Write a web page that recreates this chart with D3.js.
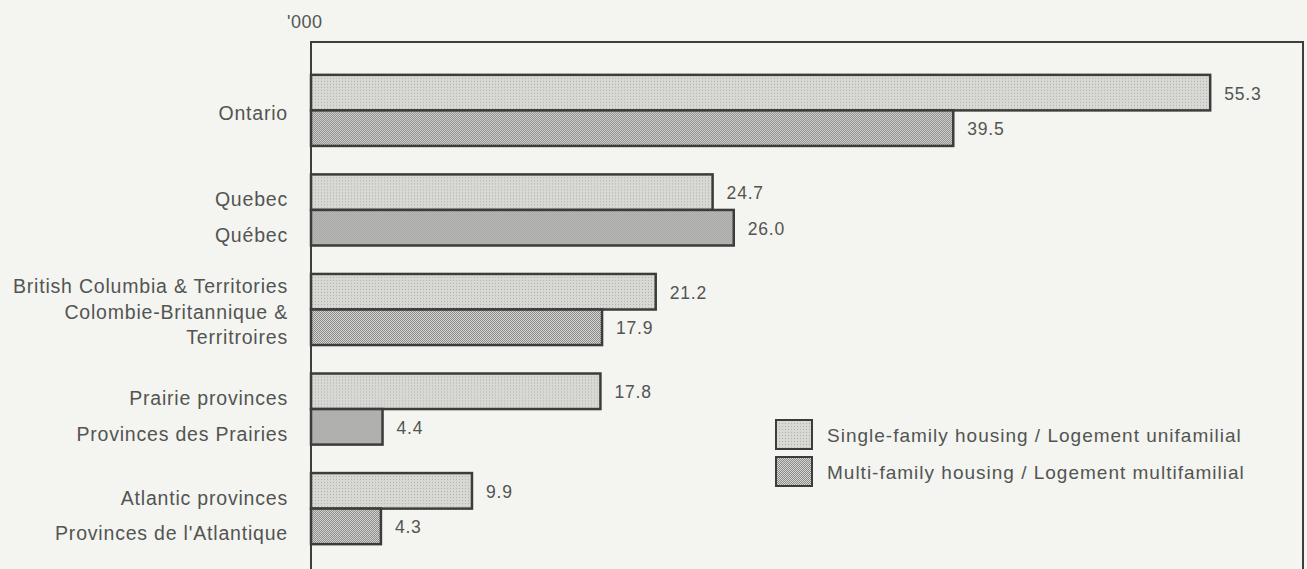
<!DOCTYPE html>
<html>
<head>
<meta charset="utf-8">
<script src="https://cdn.jsdelivr.net/npm/d3@7"></script>
<style>
  html, body { margin: 0; padding: 0; background: #f4f4f1; }
  svg { display: block; }
  text { font-family: "Liberation Sans", Arial, sans-serif; fill: #525552; }
</style>
</head>
<body>
<div id="chart"></div>
<script>
// regions, top to bottom; each label is split into its printed lines
const regions = ["Ontario", "Quebec", "BC", "Prairies", "Atlantic"];
const regionLabels = [
    ["Ontario"],
    ["Quebec", "Québec"],
    ["British Columbia & Territories", "Colombie-Britannique &", "Territroires"],
    ["Prairie provinces", "Provinces des Prairies"],
    ["Atlantic provinces", "Provinces de l'Atlantique"]
];
const series = ["single", "multi"];
const seriesNames = [
    "Single-family housing / Logement unifamilial",
    "Multi-family housing / Logement multifamilial"
];
const singleFamily = [55.3, 24.7, 21.2, 17.8, 9.9];
const multiFamily = [39.5, 26.0, 17.9, 4.4, 4.3];
const unitLabel = "'000";

(function() {
    const width = 1307;
    const height = 569;
    const left = 311;
    const top = 42;

    const svg = d3.select("#chart").append("svg")
        .attr("width", width)
        .attr("height", height);

    // halftone-ish fills, like the printed screens
    const defs = svg.append("defs");
    const p1 = defs.append("pattern").attr("id", "pat-single")
        .attr("width", 3).attr("height", 3).attr("patternUnits", "userSpaceOnUse");
    p1.append("rect").attr("width", 3).attr("height", 3).attr("fill", "#d8d8d5");
    p1.append("rect").attr("width", 1).attr("height", 1).attr("fill", "#b0b0ad");
    const p2 = defs.append("pattern").attr("id", "pat-multi")
        .attr("width", 2).attr("height", 2).attr("patternUnits", "userSpaceOnUse");
    p2.append("rect").attr("width", 2).attr("height", 2).attr("fill", "#d6d6d3");
    p2.append("rect").attr("width", 1).attr("height", 1).attr("fill", "#8a8a88");
    p2.append("rect").attr("x", 1).attr("y", 1).attr("width", 1).attr("height", 1).attr("fill", "#8a8a88");

    const fills = {single: "url(#pat-single)", multi: "url(#pat-multi)"};

    const x = d3.scaleLinear().domain([0, 60]).range([left, left + 60 * 16.26]);
    const y = d3.scaleBand().domain(regions).range([top, 577])
        .paddingInner(0.286).paddingOuter(0.33);
    const ySub = d3.scaleBand().domain(series).range([0, y.bandwidth()]);

    const rows = regions.map((r, i) => ({
        region: r,
        lines: regionLabels[i],
        bars: [
            {key: "single", value: singleFamily[i]},
            {key: "multi", value: multiFamily[i]}
        ]
    }));

    // frame
    svg.append("path")
        .attr("d", `M${left},${height} V${top} H1303 V${height}`)
        .attr("fill", "none")
        .attr("stroke", "#3c3f3c")
        .attr("stroke-width", 2);

    svg.append("text")
        .attr("x", 287)
        .attr("y", 28)
        .attr("font-size", 18)
        .attr("letter-spacing", 0.5)
        .text(unitLabel);

    const g = svg.append("g").selectAll("g")
        .data(rows)
        .enter()
        .append("g")
        .attr("transform", d => `translate(0,${y(d.region)})`);

    g.selectAll("rect")
        .data(d => d.bars)
        .enter()
        .append("rect")
        .attr("x", x(0))
        .attr("y", b => ySub(b.key))
        .attr("width", b => x(b.value) - x(0))
        .attr("height", ySub.bandwidth())
        .attr("fill", b => fills[b.key])
        .attr("stroke", "#3a3d3a")
        .attr("stroke-width", 2.5);

    g.selectAll("text.val")
        .data(d => d.bars)
        .enter()
        .append("text")
        .attr("class", "val")
        .attr("x", b => x(b.value) + 14)
        .attr("y", b => ySub(b.key) + ySub.bandwidth() / 2 + 7)
        .attr("font-size", 17.5)
        .attr("letter-spacing", 0.8)
        .text(b => b.value.toFixed(1));

    // category labels
    g.each(function(d) {
        const n = d.lines.length;
        const sel = d3.select(this);
        d.lines.forEach((line, i) => {
            let cy;
            if (n === 1) cy = y.bandwidth() / 2 + 2.5;
            else if (n === 2) cy = ySub(series[i]) + ySub.bandwidth() / 2 + 7;
            else cy = y.bandwidth() / 2 + 2.5 + (i - (n - 1) / 2) * 25.5;
            sel.append("text")
                .attr("x", 288)
                .attr("y", cy + 7)
                .attr("text-anchor", "end")
                .attr("font-size", 19.5)
                .attr("letter-spacing", 0.8)
                .text(line);
        });
    });

    // legend
    const legend = svg.append("g").attr("transform", "translate(776,420)");
    const item = legend.selectAll("g")
        .data(series)
        .enter()
        .append("g")
        .attr("transform", (s, i) => `translate(0,${i * 37})`);
    item.append("rect")
        .attr("width", 36)
        .attr("height", 29)
        .attr("fill", s => fills[s])
        .attr("stroke", "#3a3d3a")
        .attr("stroke-width", 2);
    item.append("text")
        .attr("x", 51)
        .attr("y", 22)
        .attr("font-size", 19)
        .attr("letter-spacing", 1)
        .text((s, i) => seriesNames[i]);
})();
</script>
</body>
</html>
